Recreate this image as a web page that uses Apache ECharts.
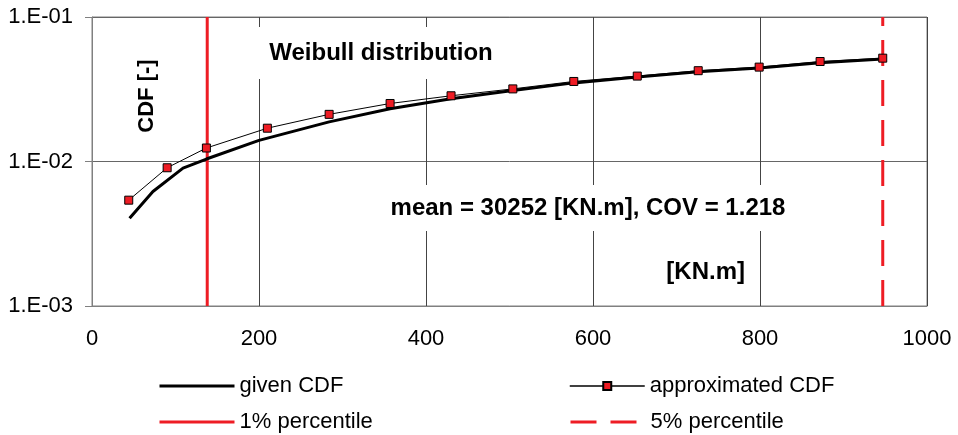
<!DOCTYPE html>
<html>
<head>
<meta charset="utf-8">
<script src="https://cdn.jsdelivr.net/npm/echarts@6/dist/echarts.min.js"></script>
<style>
html,body{margin:0;padding:0;background:#fff;}
#chart{width:958px;height:435px;}
</style>
</head>
<body>
<div id="chart"></div>
<script>
// ---- data ----
const givenX = [45, 73, 109, 137, 200, 284, 357, 430, 504, 577, 653, 726, 799, 872, 947];
const givenY = [0.00405, 0.0062, 0.0090, 0.0104, 0.0140, 0.0188, 0.0232, 0.0272, 0.0310, 0.0350, 0.0384, 0.0418, 0.0443, 0.0482, 0.0512];
const approxX = [44, 90, 137, 210, 284, 357, 430, 504, 577, 653, 726, 799, 872, 947];
const approxY = [0.0054, 0.00905, 0.0124, 0.0170, 0.0212, 0.0252, 0.0285, 0.0318, 0.0358, 0.0390, 0.0425, 0.0450, 0.0492, 0.0519];
const pct1X = 138;
const pct5X = 947;
const yRange = [0.001, 0.1];
const yTickLabels = ['1.E-03', '1.E-02', '1.E-01'];
const seriesNames = ['given CDF', 'approximated CDF', '1% percentile', '5% percentile'];
const titleText = 'Weibull distribution';
const statsText = 'mean = 30252 [KN.m], COV = 1.218';
const xUnitText = '[KN.m]';
const yUnitText = 'CDF [-]';

const FONT = '"Liberation Sans", Arial, sans-serif';
const RED = '#ee1c24';
const DASH = [26, 14];

const zip = (xs, ys) => xs.map((x, i) => [x, ys[i]]);

const chart = echarts.init(document.getElementById('chart'), null, {renderer: 'canvas'});

function legendAt(item, left, top) {
  return {
    data: [item], left: left, top: top, itemWidth: 75, itemHeight: 10,
    padding: 0, selectedMode: false,
    textStyle: {fontFamily: FONT, fontSize: 22, color: '#000', lineHeight: 22}
  };
}

const option = {
  backgroundColor: '#fff',
  animation: false,
  grid: {left: 92, right: 31, top: 17, bottom: 129, show: true, borderColor: '#808080', borderWidth: 1, backgroundColor: 'transparent'},
  xAxis: {
    type: 'value', min: 0, max: 1000, interval: 200,
    axisLine: {show: true, lineStyle: {color: '#808080', width: 1}},
    axisTick: {show: false},
    axisLabel: {fontFamily: FONT, fontSize: 22, color: '#000', margin: 22, formatter: v => String(v)},
    splitLine: {show: true, lineStyle: {color: '#444', width: 1}}
  },
  yAxis: {
    type: 'log', logBase: 10, min: yRange[0], max: yRange[1],
    axisLine: {show: true, lineStyle: {color: '#808080', width: 1}},
    axisTick: {show: true, inside: false, length: 7, lineStyle: {color: '#808080'}},
    minorTick: {show: false},
    axisLabel: {fontFamily: FONT, fontSize: 22, color: '#000', margin: 19,
      formatter: v => yTickLabels[Math.round(Math.log10(v)) + 3]},
    splitLine: {show: true, lineStyle: {color: '#666', width: 1}}
  },
  legend: [
    legendAt({name: seriesNames[0], itemStyle: {opacity: 0}, lineStyle: {width: 3, color: '#000'}}, 158, 375),
    legendAt({name: seriesNames[1], lineStyle: {width: 1.5, color: '#000'}}, 569, 375),
    legendAt({name: seriesNames[2], itemStyle: {opacity: 0}, lineStyle: {width: 3, color: RED}}, 158, 411),
    legendAt({name: seriesNames[3], itemStyle: {opacity: 0}, lineStyle: {width: 3, color: RED, type: DASH}}, 569, 411)
  ],
  graphic: [
    {type: 'text', x: 381, y: 53, z: 1, silent: true,
      style: {text: titleText, font: 'bold 24px ' + FONT, fill: '#000', align: 'center', verticalAlign: 'middle',
        backgroundColor: '#fff', padding: [14, 14]}},
    {type: 'text', x: 588, y: 208, z: 1, silent: true,
      style: {text: statsText, font: 'bold 24px ' + FONT, fill: '#000', align: 'center', verticalAlign: 'middle',
        backgroundColor: '#fff', padding: [11, 8]}},
    {type: 'text', x: 745, y: 272, z: 1, silent: true,
      style: {text: xUnitText, font: 'bold 24px ' + FONT, fill: '#000', align: 'right', verticalAlign: 'middle'}},
    {type: 'text', x: 147, y: 96, z: 1, rotation: Math.PI / 2, silent: true,
      style: {text: yUnitText, font: 'bold 22px ' + FONT, fill: '#000', align: 'center', verticalAlign: 'middle'}}
  ],
  series: [
    {name: seriesNames[0], type: 'line', data: zip(givenX, givenY), symbol: 'none', z: 3,
      lineStyle: {color: '#000', width: 3}, itemStyle: {color: '#000'}},
    {name: seriesNames[1], type: 'line', data: zip(approxX, approxY), symbol: 'rect', symbolSize: 8, z: 4,
      lineStyle: {color: '#000', width: 1}, itemStyle: {color: RED, borderColor: '#000', borderWidth: 1}},
    {name: seriesNames[2], type: 'line', data: [[pct1X, yRange[0]], [pct1X, yRange[1]]], symbol: 'none', z: 2,
      lineStyle: {color: RED, width: 3}, itemStyle: {color: RED}},
    {name: seriesNames[3], type: 'line', data: [[pct5X, yRange[0]], [pct5X, yRange[1]]], symbol: 'none', z: 2,
      lineStyle: {color: RED, width: 3, type: DASH}, itemStyle: {color: RED}}
  ]
};
chart.setOption(option);
</script>
</body>
</html>
